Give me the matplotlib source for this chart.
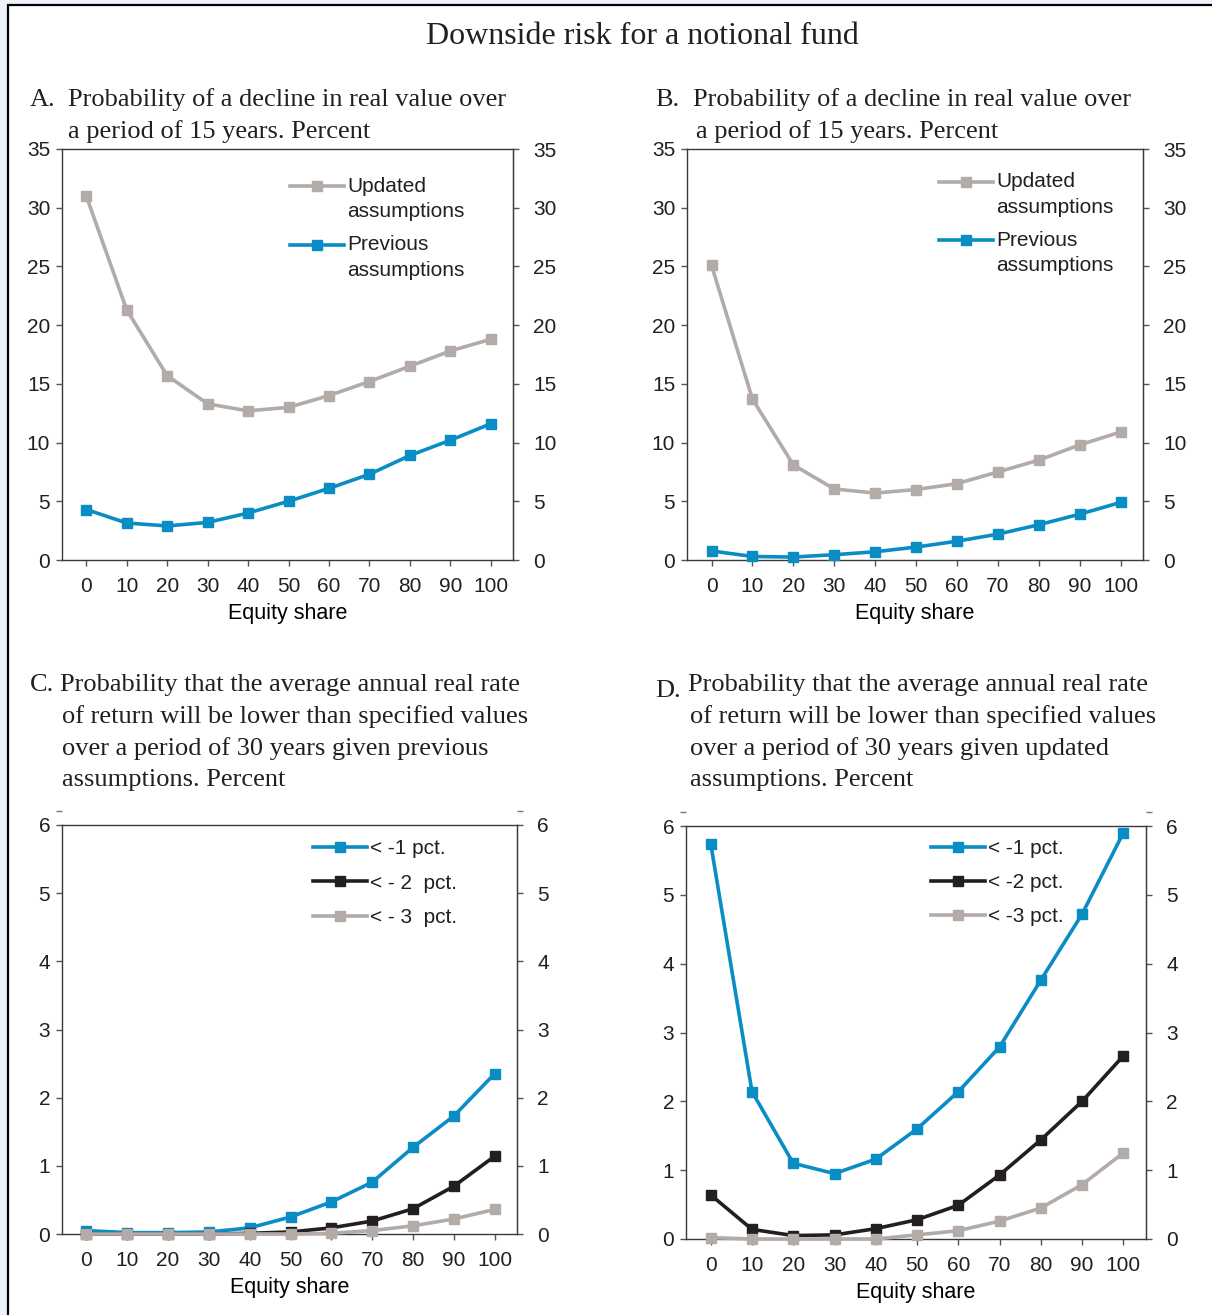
import numpy as np
import matplotlib.pyplot as plt
from matplotlib.patches import Rectangle
from matplotlib.lines import Line2D, TICKLEFT, TICKRIGHT
from matplotlib.legend_handler import HandlerLine2D

W, H = 1212, 1315

equity = [0, 10, 20, 30, 40, 50, 60, 70, 80, 90, 100]
x_ticks = [0, 10, 20, 30, 40, 50, 60, 70, 80, 90, 100]

# A. decline in real value over 15 years
a_updated = [31.0, 21.3, 15.7, 13.3, 12.7, 13.0, 14.0, 15.2, 16.5, 17.8, 18.8]
a_previous = [4.3, 3.15, 2.9, 3.2, 4.0, 5.0, 6.1, 7.3, 8.9, 10.2, 11.6]

# B. decline in real value over 15 years
b_updated = [25.1, 13.7, 8.1, 6.05, 5.7, 6.0, 6.5, 7.5, 8.5, 9.8, 10.9]
b_previous = [0.77, 0.3, 0.25, 0.45, 0.7, 1.1, 1.6, 2.2, 3.0, 3.9, 4.9]

# C. 30-year real return below thresholds, previous assumptions
c_minus1 = [0.05, 0.02, 0.02, 0.03, 0.09, 0.25, 0.47, 0.76, 1.27, 1.73, 2.35]
c_minus2 = [0.0, 0.0, 0.0, 0.0, 0.01, 0.03, 0.09, 0.19, 0.37, 0.70, 1.14]
c_minus3 = [0.0, 0.0, 0.0, 0.0, 0.0, 0.0, 0.01, 0.05, 0.12, 0.22, 0.36]

# D. same, updated assumptions
d_minus1 = [5.74, 2.14, 1.1, 0.95, 1.16, 1.6, 2.14, 2.79, 3.76, 4.72, 5.9]
d_minus2 = [0.64, 0.14, 0.05, 0.06, 0.15, 0.28, 0.49, 0.93, 1.44, 2.0, 2.66]
d_minus3 = [0.02, 0.0, 0.0, 0.0, 0.0, 0.06, 0.12, 0.26, 0.45, 0.79, 1.25]

BLUE = '#0a8dc4'
GREY = '#b2aba8'
BLACK = '#231f20'
TXT = '#231f20'

SANS = 'Liberation Sans'
SERIF = 'Liberation Serif'

plt.rcParams['font.family'] = SANS
plt.rcParams['text.color'] = TXT


class TopLineHandler(HandlerLine2D):
    """Legend key drawn level with the first line of a two-line label."""

    def __init__(self, shift, **kw):
        super().__init__(**kw)
        self.shift = shift

    def create_artists(self, legend, orig_handle, xdescent, ydescent, width,
                       height, fontsize, trans):
        arts = super().create_artists(legend, orig_handle, xdescent, ydescent,
                                      width, height, fontsize, trans)
        for a in arts:
            a.set_ydata(np.asarray(a.get_ydata()) + self.shift)
        return arts


def fx(px):
    return px / W


def fy(py):
    return 1 - py / H


fig = plt.figure(figsize=(W / 100, H / 100), dpi=100, facecolor='#eef2fa')

# white panel with black frame, cut off at right and bottom
fig.patches.append(Rectangle((fx(8), -0.1), 1.2, fy(5) + 0.1, transform=fig.transFigure,
                             facecolor='white', edgecolor='black', linewidth=1.6, zorder=-5))

fig.text(fx(642), fy(37), 'Downside risk for a notional fund', family=SERIF,
         fontsize=23, ha='center', va='center')


def title_lines(letter, lx, x, y0, lines, ly=None):
    fig.text(fx(lx), fy(ly if ly is not None else y0), letter, family=SERIF,
             fontsize=19, ha='left', va='center')
    for i, (xx, line) in enumerate(zip(x, lines)):
        fig.text(fx(xx), fy(y0 + i * 31.7), line, family=SERIF, fontsize=19,
                 ha='left', va='center')


def make_axes(box, ymax, ystep):
    left, top, right, bottom = box
    ax = fig.add_axes([fx(left), fy(bottom), (right - left) / W, (bottom - top) / H])
    yt = np.arange(0, ymax + 0.01, ystep)
    ax.set_xlim(-6, 105.5)
    ax.set_ylim(0, ymax)
    ax.set_xticks(x_ticks)
    ax.set_yticks(yt)
    ax.tick_params(axis='y', direction='out', length=4.5, width=1, color='#555555',
                   labelsize=15, labelcolor=TXT, right=False, pad=4)
    ax.tick_params(axis='x', direction='out', length=4.5, width=1, color='#555555',
                   labelsize=15, labelcolor=TXT, pad=8)
    for s in ax.spines.values():
        s.set_color('#3a3a3a')
        s.set_linewidth(1)
    sec = ax.secondary_yaxis('right')
    sec.set_yticks(yt)
    sec.tick_params(direction='out', length=4.5, width=1, color='#555555',
                    labelsize=15, labelcolor=TXT, pad=10)
    sec.spines['right'].set_color('#3a3a3a')
    ax.set_xlabel('Equity share', fontsize=15.5, labelpad=5)
    return ax


def series(ax, y, color, label):
    ax.plot(equity, y, color=color, lw=2.6, marker='s', ms=7.5, label=label,
            clip_on=False, zorder=3)


def legend(ax, x, y, spacing, two_line=False):
    kw = {}
    if two_line:
        kw['handler_map'] = {Line2D: TopLineHandler(shift=9.5)}
    leg = ax.legend(loc='upper left', bbox_to_anchor=(x, y), frameon=False, fontsize=15,
                    handlelength=2.6, handletextpad=0.15, labelspacing=spacing,
                    borderpad=0, borderaxespad=0, **kw)
    for t in leg.get_texts():
        t.set_linespacing(1.45)
    return leg


# Panel A
title_lines('A.', 30, [68, 68], 100,
            ['Probability of a decline in real value over',
             'a period of 15 years. Percent'])
ax = make_axes((62, 149, 513, 560), 35, 5)
series(ax, a_updated, GREY, 'Updated\nassumptions')
series(ax, a_previous, BLUE, 'Previous\nassumptions')
legend(ax, 0.506, 0.933, 0.68, two_line=True)

# Panel B
title_lines('B.', 655, [693, 696], 100,
            ['Probability of a decline in real value over',
             'a period of 15 years. Percent'])
ax = make_axes((687, 149, 1143, 560), 35, 5)
series(ax, b_updated, GREY, 'Updated\nassumptions')
series(ax, b_previous, BLUE, 'Previous\nassumptions')
legend(ax, 0.553, 0.943, 0.65, two_line=True)

# Panel C
title_lines('C.', 30, [60, 62, 62, 62], 685,
            ['Probability that the average annual real rate',
             'of return will be lower than specified values',
             'over a period of 30 years given previous',
             'assumptions. Percent'])
ax = make_axes((62, 825, 517, 1234), 6, 1)
series(ax, c_minus1, BLUE, '< -1 pct.')
series(ax, c_minus2, BLACK, '< - 2  pct.')
series(ax, c_minus3, GREY, '< - 3  pct.')
legend(ax, 0.552, 0.966, 0.75)
for xa, mk in ((0, TICKLEFT), (1, TICKRIGHT)):
    ax.plot([xa], [1.035], transform=ax.transAxes, marker=mk, ms=4, mew=1,
            color='#777777', clip_on=False)

# Panel D
title_lines('D.', 655, [688, 690, 690, 690], 685,
            ['Probability that the average annual real rate',
             'of return will be lower than specified values',
             'over a period of 30 years given updated',
             'assumptions. Percent'], ly=691)
ax = make_axes((686, 826, 1146, 1239), 6, 1)
series(ax, d_minus1, BLUE, '< -1 pct.')
series(ax, d_minus2, BLACK, '< -2 pct.')
series(ax, d_minus3, GREY, '< -3 pct.')
legend(ax, 0.533, 0.968, 0.72)
for xa, mk in ((0, TICKLEFT), (1, TICKRIGHT)):
    ax.plot([xa], [1.035], transform=ax.transAxes, marker=mk, ms=4, mew=1,
            color='#777777', clip_on=False)

fig.savefig('out.png', dpi=100, facecolor=fig.get_facecolor())
